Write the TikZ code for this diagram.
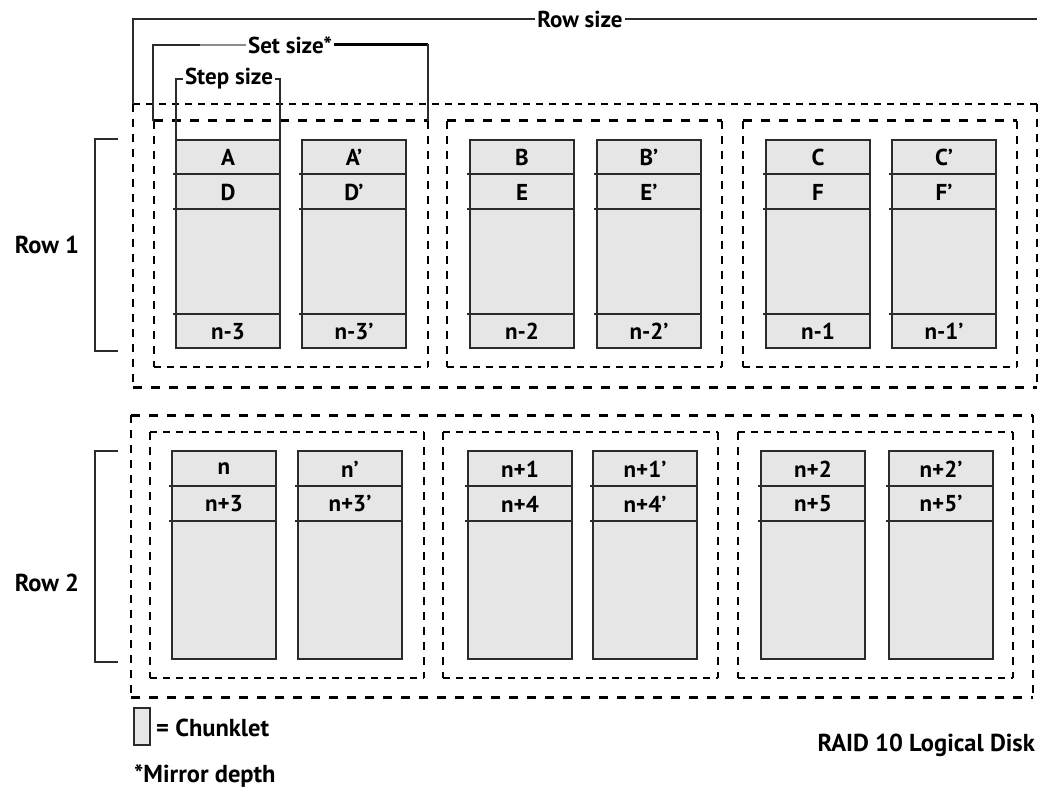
\documentclass[tikz,border=0pt]{standalone}
\usepackage{fontspec}
\setmainfont{PT Sans}
\definecolor{chunkgray}{HTML}{E6E6E6}
\definecolor{linegray}{HTML}{2B2B2B}
\definecolor{lightline}{HTML}{8C8C8C}
\begin{document}
\begin{tikzpicture}[x=1pt,y=-1pt,
  chunkfill/.style={fill=chunkgray},
  chunkborder/.style={draw=linegray,line width=1.8pt},
  sepline/.style={draw=linegray,line width=1.6pt},
  lbl/.style={font=\bfseries\fontsize{23}{26}\selectfont,inner sep=0pt},
  biglbl/.style={font=\bfseries\fontsize{24.5}{28}\selectfont,inner sep=0pt},
  toplbl/.style={font=\bfseries\fontsize{23}{26}\selectfont,fill=white,inner sep=2pt},
  thindash/.style={line width=1.4pt,dash pattern=on 7pt off 6pt},
  thickdash/.style={line width=3pt,dash pattern=on 9pt off 9pt},
  vdash/.style={line width=1.8pt,dash pattern=on 8pt off 7pt},
  bracket/.style={draw=linegray,line width=1.6pt},
  graybr/.style={draw=lightline,line width=1.6pt},
  heavybr/.style={draw=black,line width=3pt}]
\useasboundingbox (0,0) rectangle (1040,791);

% ---------- Row 1 dashed boxes ----------
\draw[thindash] (133,104) -- (1037,104);
\draw[vdash] (133,104) -- (133,387);
\draw[vdash] (1037,104) -- (1037,387);
\draw[thickdash] (133,387) -- (1037,387);
\foreach \l/\r in {154/428,447/722,743/1017}{
  \draw[thickdash] (\l,121) -- (\r,121);
  \draw[vdash] (\l,121) -- (\l,367);
  \draw[vdash] (\r,121) -- (\r,367);
  \draw[thindash] (\l,367) -- (\r,367);
}
% ---------- Row 2 dashed boxes ----------
\draw[thickdash] (131,415) -- (1033,415);
\draw[vdash] (131,415) -- (131,697);
\draw[vdash] (1033,415) -- (1033,697);
\draw[thickdash] (131,697) -- (1033,697);
\foreach \l/\r in {150/424,443/718,738/1013}{
  \draw[thindash] (\l,432) -- (\r,432);
  \draw[vdash] (\l,432) -- (\l,678);
  \draw[vdash] (\r,432) -- (\r,678);
  \draw[thindash] (\l,678) -- (\r,678);
}

% ---------- Row 1 chunklets ----------
\foreach \x/\a/\b/\c [count=\i] in {176/A/D/n-3,302/A’/D’/n-3’,470/B/E/n-2,597/B’/E’/n-2’,766/C/F/n-1,892/C’/F’/n-1’}{
  \fill[chunkfill] (\x,140) rectangle ++(104,208);
  \draw[sepline] (\x-3,174) -- (\x+104,174);
  \draw[sepline] (\x-3,209) -- (\x+104,209);
  \draw[sepline] (\x-3,314) -- (\x+104,314);
  \draw[chunkborder] (\x,140) rectangle ++(104,208);
  \node[lbl] (ra\i) at (\x+52,157.5) {\a};
  \node[lbl] (rb\i) at (\x+52,192) {\b};
  \node[lbl] (rc\i) at (\x+52,331.5) {\c};
}
% ---------- Row 2 chunklets ----------
\foreach \x/\a/\b [count=\i] in {172/n/n+3,298/n’/n+3’,468/n+1/n+4,593/n+1’/n+4’,761/n+2/n+5,889/n+2’/n+5’}{
  \fill[chunkfill] (\x,451) rectangle ++(104,208);
  \draw[sepline] (\x-3,486) -- (\x+104,486);
  \draw[sepline] (\x-3,521) -- (\x+104,521);
  \draw[chunkborder] (\x,451) rectangle ++(104,208);
  \node[lbl] (sa\i) at (\x+52,469) {\a};
  \node[lbl] (sb\i) at (\x+52,504) {\b};
}

% ---------- Row brackets ----------
\draw[bracket] (118,139) -- (95,139) -- (95,351) -- (118,351);
\node[biglbl] (row1) at (47,245) {Row 1};
\draw[bracket] (118,451) -- (95,451) -- (95,662) -- (118,662);
\node[biglbl] (row2) at (47,583) {Row 2};

% ---------- Size brackets ----------
\node[toplbl] (rowsize) at (580,19) {Row size};
\draw[bracket] (133,104) -- (133,19) -- (rowsize.west);
\draw[bracket] (rowsize.east) -- (1037,19);

\node[toplbl] (setsize) at (290,45) {Set size*};
\draw[bracket] (153,121) -- (153,45) -- (200,45);
\draw[graybr] (200,45) -- (setsize.west);
\draw[heavybr] (setsize.east) -- (428,45);
\draw[bracket] (428,44) -- (428,121);

\node[toplbl] (stepsize) at (229,79) {Step size};
\draw[bracket] (176,140) -- (176,79) -- (stepsize.west);
\draw[bracket] (stepsize.east) -- (280,79) -- (280,140);

% ---------- Legend ----------
\draw[chunkfill,draw=linegray,line width=1.6pt] (134,708) rectangle (150,745);
\node[biglbl,anchor=west] (chunklet) at (156,728) {= Chunklet};
\node[biglbl,anchor=west] (mirror) at (134,776) {*Mirror depth};
\node[biglbl,anchor=east] (raid) at (1035,745) {RAID 10 Logical Disk};
\end{tikzpicture}
\end{document}
